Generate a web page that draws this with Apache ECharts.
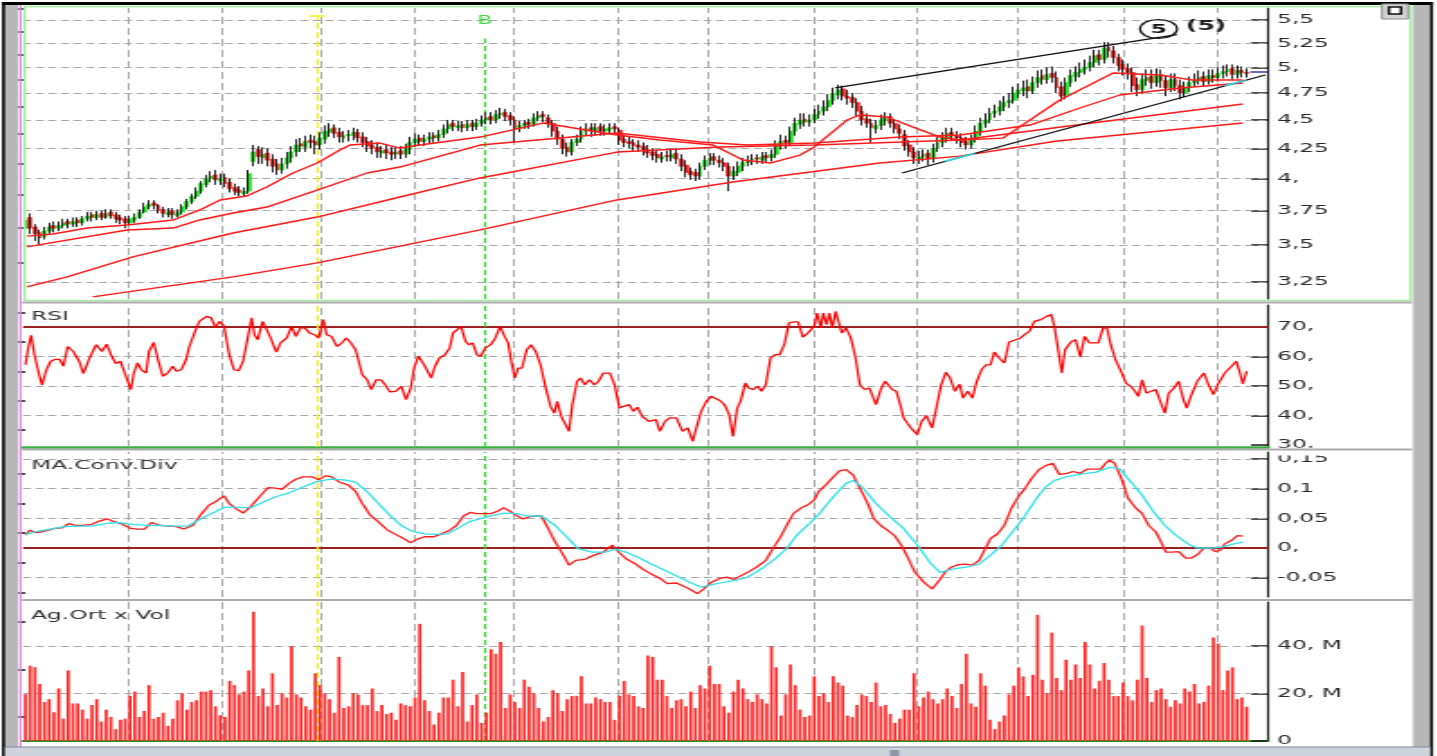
<!DOCTYPE html>
<html lang="tr">
<head>
<meta charset="utf-8">
<title>Fiyat grafiği</title>
<script src="https://cdn.jsdelivr.net/npm/echarts@6/dist/echarts.min.js"></script>
<style>
  html, body { margin: 0; height: 100%; background: #fff; overflow: hidden; }
  /* the source screenshot is stretched horizontally, so the chart is drawn narrow and widened */
  #container { width: 798px; height: 756px; transform: scaleX(1.8); transform-origin: 0 0; }
</style>
</head>
<body>
<div id="container"></div>
<script>
// ---- data (one entry per trading day) ----
var opens = [
  3.62,3.70,3.63,3.59,3.56,3.60,3.64,3.62,3.64,3.67, 3.65,3.68,3.66,3.69,3.72,3.70,3.73,3.70,3.74,3.72,
  3.70,3.69,3.66,3.68,3.70,3.74,3.78,3.81,3.79,3.76, 3.72,3.75,3.71,3.74,3.78,3.82,3.86,3.90,3.95,4.00,
  4.03,3.98,4.01,3.97,3.93,3.91,3.88,3.90,4.14,4.24, 4.17,4.21,4.16,4.12,4.07,4.12,4.17,4.22,4.29,4.26,
  4.32,4.31,4.28,4.33,4.39,4.43,4.39,4.34,4.36,4.36, 4.39,4.35,4.31,4.28,4.26,4.21,4.24,4.22,4.20,4.23,
  4.20,4.24,4.30,4.34,4.31,4.33,4.36,4.34,4.37,4.42, 4.47,4.43,4.46,4.43,4.47,4.44,4.47,4.50,4.53,4.50,
  4.55,4.57,4.54,4.50,4.42,4.45,4.48,4.46,4.52,4.55, 4.52,4.47,4.40,4.33,4.26,4.22,4.30,4.33,4.40,4.43,
  4.40,4.44,4.40,4.41,4.44,4.41,4.33,4.31,4.30,4.28, 4.27,4.24,4.22,4.20,4.16,4.19,4.17,4.21,4.16,4.11,
  4.06,4.05,4.02,4.10,4.15,4.18,4.15,4.13,4.10,4.02, 4.05,4.10,4.13,4.15,4.17,4.15,4.19,4.17,4.20,4.28,
  4.32,4.30,4.40,4.46,4.51,4.48,4.50,4.55,4.58,4.62, 4.68,4.73,4.79,4.72,4.71,4.66,4.58,4.51,4.47,4.42,
  4.45,4.49,4.53,4.47,4.42,4.37,4.28,4.22,4.16,4.18, 4.21,4.16,4.25,4.30,4.34,4.39,4.36,4.34,4.31,4.28,
  4.33,4.40,4.47,4.50,4.56,4.58,4.62,4.66,4.68,4.74, 4.77,4.81,4.77,4.85,4.92,4.88,4.94,4.90,4.81,4.73,
  4.85,4.91,4.95,4.98,5.00,5.05,5.13,5.08,5.21,5.17, 5.10,5.03,4.99,4.95,4.83,4.78,4.87,4.91,4.85,4.93,
  4.87,4.80,4.88,4.82,4.75,4.80,4.85,4.87,4.91,4.86, 4.92,4.90,4.94,4.96,4.99,4.93,4.97,4.95
];
var closes = [
  3.68,3.62,3.58,3.55,3.60,3.63,3.62,3.64,3.66,3.65, 3.67,3.66,3.69,3.71,3.70,3.72,3.70,3.73,3.71,3.69,
  3.68,3.66,3.69,3.70,3.74,3.78,3.80,3.79,3.75,3.73, 3.74,3.72,3.74,3.78,3.82,3.86,3.90,3.96,4.00,4.02,
  3.99,4.00,3.96,3.92,3.90,3.89,3.90,4.04,4.22,4.18, 4.20,4.15,4.10,4.07,4.12,4.17,4.22,4.28,4.27,4.31,
  4.30,4.28,4.34,4.40,4.42,4.38,4.35,4.36,4.37,4.39, 4.34,4.30,4.27,4.25,4.22,4.23,4.21,4.20,4.22,4.20,
  4.24,4.30,4.33,4.31,4.33,4.35,4.34,4.37,4.42,4.46, 4.44,4.45,4.43,4.46,4.44,4.47,4.50,4.52,4.50,4.55,
  4.56,4.53,4.50,4.42,4.45,4.47,4.46,4.52,4.54,4.53, 4.47,4.40,4.33,4.25,4.22,4.30,4.33,4.40,4.42,4.40,
  4.43,4.40,4.42,4.43,4.42,4.32,4.30,4.29,4.27,4.26, 4.23,4.21,4.19,4.17,4.18,4.18,4.20,4.16,4.10,4.05,
  4.03,4.02,4.10,4.15,4.17,4.15,4.13,4.10,4.02,4.06, 4.10,4.13,4.15,4.16,4.16,4.18,4.17,4.20,4.28,4.31,
  4.30,4.40,4.47,4.50,4.48,4.50,4.55,4.58,4.62,4.68, 4.74,4.78,4.72,4.70,4.66,4.58,4.50,4.47,4.43,4.45,
  4.50,4.52,4.47,4.42,4.38,4.27,4.22,4.17,4.18,4.20, 4.16,4.25,4.30,4.34,4.38,4.36,4.34,4.30,4.28,4.33,
  4.40,4.47,4.50,4.56,4.58,4.62,4.66,4.68,4.75,4.78, 4.80,4.77,4.85,4.90,4.88,4.93,4.90,4.80,4.72,4.85,
  4.92,4.95,4.98,5.00,5.05,5.12,5.08,5.20,5.17,5.10, 5.02,4.98,4.95,4.82,4.78,4.88,4.90,4.85,4.92,4.87,
  4.80,4.88,4.82,4.75,4.80,4.85,4.87,4.90,4.86,4.92, 4.90,4.94,4.96,4.98,4.93,4.97,4.95,4.94
];
var lows = [
  3.58,3.58,3.53,3.50,3.54,3.58,3.59,3.60,3.62,3.62, 3.63,3.63,3.64,3.67,3.67,3.68,3.68,3.69,3.69,3.66,
  3.65,3.62,3.64,3.66,3.69,3.73,3.76,3.76,3.73,3.70, 3.70,3.69,3.70,3.72,3.76,3.80,3.84,3.88,3.93,3.97,
  3.95,3.95,3.93,3.89,3.87,3.86,3.86,3.88,4.10,4.12, 4.12,4.10,4.05,4.03,4.04,4.08,4.13,4.18,4.22,4.22,
  4.25,4.20,4.24,4.29,4.35,4.34,4.30,4.30,4.31,4.32, 4.30,4.26,4.22,4.20,4.17,4.17,4.16,4.15,4.16,4.16,
  4.17,4.20,4.26,4.27,4.27,4.29,4.30,4.31,4.34,4.38, 4.40,4.40,4.39,4.40,4.40,4.41,4.44,4.46,4.46,4.47,
  4.51,4.49,4.45,4.30,4.39,4.42,4.42,4.44,4.49,4.48, 4.43,4.35,4.28,4.20,4.18,4.19,4.27,4.30,4.36,4.35,
  4.36,4.36,4.36,4.38,4.38,4.28,4.26,4.25,4.23,4.22, 4.19,4.17,4.15,4.13,4.13,4.14,4.14,4.12,4.06,4.01,
  3.99,3.98,3.99,4.07,4.11,4.11,4.09,4.06,3.90,3.99, 4.02,4.06,4.10,4.11,4.12,4.12,4.13,4.14,4.17,4.24,
  4.25,4.27,4.36,4.42,4.44,4.44,4.47,4.51,4.54,4.58, 4.64,4.69,4.68,4.64,4.61,4.53,4.45,4.43,4.30,4.38,
  4.41,4.45,4.43,4.38,4.33,4.23,4.18,4.12,4.12,4.14, 4.11,4.13,4.22,4.26,4.30,4.32,4.29,4.26,4.24,4.25,
  4.30,4.36,4.43,4.47,4.52,4.54,4.58,4.61,4.65,4.70, 4.72,4.70,4.74,4.80,4.83,4.84,4.85,4.75,4.67,4.69,
  4.81,4.86,4.90,4.93,4.96,5.00,5.02,5.04,5.10,5.04, 4.96,4.92,4.88,4.76,4.72,4.74,4.82,4.79,4.81,4.80,
  4.72,4.76,4.77,4.69,4.71,4.76,4.81,4.83,4.81,4.83, 4.85,4.86,4.89,4.91,4.88,4.89,4.90,4.90
];
var highs = [
  3.75,3.73,3.65,3.61,3.63,3.66,3.67,3.67,3.69,3.69, 3.70,3.70,3.71,3.74,3.74,3.75,3.75,3.76,3.76,3.74,
  3.72,3.71,3.71,3.73,3.76,3.81,3.83,3.83,3.80,3.78, 3.77,3.77,3.76,3.80,3.84,3.88,3.93,3.98,4.03,4.06,
  4.07,4.04,4.04,4.00,3.96,3.94,3.93,4.07,4.28,4.27, 4.26,4.25,4.20,4.16,4.17,4.22,4.27,4.33,4.34,4.36,
  4.37,4.36,4.39,4.45,4.47,4.46,4.43,4.40,4.41,4.43, 4.42,4.39,4.35,4.32,4.30,4.27,4.28,4.26,4.26,4.27,
  4.29,4.35,4.38,4.37,4.37,4.39,4.39,4.41,4.46,4.50, 4.50,4.49,4.49,4.50,4.50,4.51,4.54,4.57,4.57,4.59,
  4.61,4.60,4.57,4.53,4.49,4.50,4.51,4.56,4.58,4.58, 4.55,4.50,4.44,4.37,4.30,4.33,4.37,4.44,4.47,4.47,
  4.47,4.47,4.46,4.47,4.47,4.43,4.37,4.35,4.33,4.32, 4.30,4.28,4.25,4.23,4.22,4.23,4.24,4.25,4.20,4.15,
  4.09,4.08,4.13,4.19,4.21,4.21,4.19,4.17,4.13,4.10, 4.14,4.17,4.19,4.20,4.20,4.22,4.22,4.24,4.32,4.37,
  4.36,4.44,4.52,4.56,4.56,4.55,4.60,4.64,4.68,4.74, 4.80,4.83,4.82,4.78,4.75,4.70,4.63,4.56,4.51,4.50,
  4.55,4.57,4.56,4.51,4.46,4.41,4.32,4.26,4.23,4.24, 4.24,4.29,4.35,4.39,4.43,4.43,4.40,4.38,4.35,4.37,
  4.45,4.52,4.56,4.61,4.64,4.68,4.72,4.75,4.81,4.84, 4.87,4.88,4.91,4.97,4.98,5.00,5.01,4.96,4.86,4.90,
  4.98,5.01,5.05,5.08,5.12,5.18,5.18,5.26,5.26,5.22, 5.14,5.08,5.04,5.00,4.90,4.94,4.98,4.98,4.99,4.98,
  4.92,4.94,4.94,4.88,4.86,4.91,4.94,4.97,4.96,4.98, 4.98,5.00,5.02,5.03,5.03,5.02,5.01,4.99
];
// volume, millions
var volumes = [
  19.7,31.7,31.1,24.0,16.4,17.6,12.1,22.1,9.4,29.7, 15.8,15.8,13.2,9.4,15.1,17.6,8.2,13.2,10.1,5.0,
  8.9,9.4,19.0,20.8,10.1,12.6,23.5,9.4,10.1,11.9, 6.4,9.4,17.1,20.1,13.2,16.4,17.1,20.8,20.8,21.4,
  14.6,10.8,10.1,25.3,23.5,19.6,20.8,29.7,54.4,18.9, 22.1,14.6,28.5,15.1,20.1,18.3,39.9,19.6,18.3,14.6,
  13.2,28.5,23.5,20.1,17.6,11.9,35.4,13.9,14.6,20.1, 19.6,15.1,15.1,22.1,12.6,15.1,11.4,11.9,8.9,15.8,
  15.1,14.6,18.3,49.3,17.1,12.6,6.9,11.9,18.3,18.3, 25.8,14.6,29.0,8.2,15.1,19.6,7.6,11.9,38.6,36.7,
  41.7,13.9,19.6,16.4,13.9,25.8,22.8,20.1,13.9,8.2, 10.1,21.4,20.1,12.6,17.6,18.9,19.0,27.2,15.8,15.8,
  18.3,17.6,16.4,16.4,8.9,19.0,25.3,19.6,18.9,14.6, 13.9,36.0,35.4,25.8,25.8,18.9,13.9,17.1,17.6,14.6,
  20.8,13.9,23.5,22.1,31.7,24.0,24.0,
  14.6,11.9,20.8,25.8,22.1,17.6,16.4,19.6,17.6,15.8, 39.9,31.0,10.7,19.6,32.2,23.5,13.2,10.1,10.7,27.2,
  18.9,20.1,16.4,27.2,24.6,23.3,10.7,10.1,15.1,19.6, 18.9,16.4,24.6,14.6,15.1,11.4,7.6,9.4,13.2,13.2,
  28.5,14.6,18.3,20.8,17.6,15.8,17.6,22.1,18.9,13.9, 24.0,36.7,15.8,14.4,28.5,23.3,8.9,5.0,8.2,10.7,
  19.6,23.3,31.0,27.2,18.9,27.8,53.1,25.8,20.1,45.6, 26.5,21.4,34.2,25.8,32.2,26.5,41.7,32.2,22.1,25.3,
  32.8,25.8,18.9,18.9,24.6,18.9,17.1,25.8,48.6,26.5, 16.4,21.4,22.1,17.6,14.4,17.1,15.8,22.1,20.8,24.0,
  15.8,16.4,23.3,43.6,41.0,21.4,29.7,31.0,17.6,18.3, 14.4
];

// moving averages, read at sample days
var ma20Days = [0.3,5.8,13.0,21.4,31.1,36.7,41.0,46.6,50.8,56.3,61.4,66.2,68.3,74.6,78.8,83.0,95.7,108.9,124.5,133.5,
  144.7,151.0,156.7,163.0,165.7,172.9,175.6,181.3,186.8,192.5,196.7,205.7,217.7,228.9,238.8,245.7,256.2];
var ma20Vals = [3.564,3.579,3.622,3.644,3.681,3.756,3.832,3.863,3.933,4.045,4.127,4.236,4.279,4.296,4.253,4.279,4.348,4.472,4.366,4.322,
  4.279,4.152,4.127,4.194,4.253,4.499,4.545,4.527,4.436,4.348,4.322,4.339,4.684,4.944,4.925,4.875,4.875];
var ma50Days = [0.3,21.4,31.1,36.7,43.7,50.8,61.4,71.9,78.8,95.7,124.5,142.0,151.9,166.1,184.1,196.7,211.4,221.9,230.3,243.0,256.2];
var ma50Vals = [3.487,3.608,3.622,3.681,3.733,3.778,3.909,4.045,4.094,4.279,4.383,4.305,4.279,4.296,4.348,4.366,4.454,4.609,4.731,4.798,4.846];
var ma100Days = [0.3,8.8,22.6,43.7,61.4,78.8,95.7,124.5,146.2,166.1,196.7,226.1,256.2];
var ma100Vals = [3.218,3.284,3.418,3.586,3.703,3.855,4.005,4.219,4.262,4.279,4.322,4.481,4.646];
var ma200Days = [14.2,43.7,61.4,95.7,124.5,148.9,179.8,196.7,217.1,256.2];
var ma200Vals = [3.154,3.284,3.377,3.608,3.832,3.973,4.127,4.185,4.314,4.472];

// RSI
var rsiDays = [
  0,0.6,1.2,1.9,2.9,3.5,4.3,5.3,6.2,7.2, 8.0,8.9,10.1,11.3,12.2,13.5,14.9,16.1,17.1,18.0,
  19.0,20.0,20.9,22.2,22.8,23.6,24.4,25.4,26.0,27.0, 28.0,28.9,29.9,31.0,31.8,32.8,33.8,34.4,35.7,36.6,
  38.1,39.1,40.0,40.8,41.8,42.9,43.9,44.9,45.8,46.8, 47.6,48.2,48.9,49.9,50.6,51.6,52.8,53.7,55.0,56.0,
  56.9,57.9,58.8,59.8,60.8,61.7,62.7,63.4,64.4,65.6, 66.6,67.5,68.5,69.5,70.9,71.9,72.8,73.8,74.8,75.7,
  76.7,77.9,79.1,80.1,81.1,81.8,82.7,83.9,85.4,86.2, 87.1,88.3,89.3,90.0,91.7,92.6,93.3,94.1,95.0,95.8,
  96.8,97.9,98.9,99.9,100.8,101.6,102.3,103.0,103.7,104.5, 105.5,106.4,107.4,108.4,109.5,110.5,111.3,111.9,112.9,114.4,
  115.1,116.1,116.8,117.7,118.7,119.7,120.6,121.6,123.0,124.0, 125.0,125.9,127.1,127.9,128.8,129.8,131.2,132.7,133.5,134.6,
  135.6,137.0,138.3,139.4,140.4,141.2,142.2,143.3,144.3,
  146.2,147.1,148.1,148.9,149.8,150.5,151.5,152.2,153.1,154.1, 154.9,155.8,156.8,157.8,158.7,159.7,160.7,161.6,162.6,163.6,
  164.7,166.0,166.6,167.4,167.9,168.6,169.2,169.8,170.5,171.3, 171.8,172.7,173.7,174.7,175.6,176.6,177.6,179.0,180.0,180.9,
  182.4,183.3,184.3,184.8,185.8,186.7,187.7,188.6,189.6,190.8, 191.7,192.7,193.7,194.6,195.6,196.6,197.3,198.3,199.3,200.2,
  201.2,202.2,203.1,203.9,204.9,206.0,207.0,208.4,209.4,210.4, 211.3,212.3,213.7,214.9,215.9,216.6,217.4,218.1,218.8,220.0,
  221.0,222.0,222.9,223.9,224.8,225.8,226.8,227.6,228.4,229.4, 230.6,231.6,232.6,233.5,234.2,235.0,235.9,236.9,237.9,238.8,
  239.8,240.6,241.7,242.7,243.7,244.4,245.4,246.6,248.0,249.0, 250.0,250.9,252.4,253.8,254.8,255.4,256.2,257.0
];
var rsiVals = [
  57.2,62.9,67.2,60.6,53.8,50.4,55.0,58.4,59.0,59.0, 56.7,63.4,61.7,58.4,54.2,59.5,64.0,61.7,64.2,60.6,
  57.6,58.4,54.4,48.8,54.4,57.8,55.5,54.4,61.7,64.8, 58.4,53.3,54.4,56.7,55.0,55.5,58.9,62.9,68.5,71.9,
  73.6,73.1,69.7,71.9,70.2,60.6,55.5,55.2,58.4,66.3, 73.1,67.4,65.7,71.9,69.7,66.3,61.5,64.6,66.3,70.2,
  66.8,69.7,69.7,68.0,67.4,66.3,72.5,67.4,66.8,63.4, 64.6,66.3,64.6,62.3,53.8,52.1,48.8,52.1,52.1,50.4,
  48.0,48.2,49.9,45.4,49.3,56.1,60.1,57.2,52.7,56.7, 59.5,60.6,62.9,68.0,70.2,65.2,64.0,64.6,60.6,60.1,
  62.9,64.0,66.3,70.2,67.0,64.6,57.8,52.7,56.1,56.1, 62.3,64.0,61.7,57.2,49.3,43.1,40.8,44.8,39.2,34.6,
  43.7,51.6,52.7,50.4,52.1,50.4,51.6,54.4,54.4,50.4, 42.5,43.1,43.7,41.4,42.8,39.7,38.0,38.6,34.6,38.0,
  39.2,39.2,34.6,35.8,31.2,35.8,41.4,44.8,46.5,
  45.0,43.7,40.3,32.9,42.5,44.8,51.0,49.3,48.8,49.9, 48.2,50.4,59.5,60.6,60.6,64.0,71.4,71.7,71.7,66.6,
  68.0,70.2,74.7,69.7,74.7,70.8,74.7,69.7,75.3,70.8, 68.0,69.7,66.3,59.5,50.4,48.8,49.3,43.7,48.8,51.6,
  48.8,48.2,42.5,39.2,36.9,35.2,33.5,38.0,40.0,35.8, 42.5,50.4,54.7,52.7,48.2,50.6,45.9,48.2,45.9,51.6,
  55.5,57.2,57.2,61.5,59.5,57.8,64.9,65.7,66.3,67.6, 68.5,71.9,72.5,73.6,74.2,69.7,61.7,54.4,62.3,64.9,
  65.7,59.8,66.8,64.6,64.6,64.6,69.7,69.7,64.0,58.9, 54.9,51.0,49.9,48.2,46.5,52.1,47.6,48.2,48.8,44.8,
  40.8,47.6,49.3,51.6,45.4,42.5,47.1,51.6,54.4,50.4, 47.1,50.4,54.4,56.7,58.4,55.5,50.7,55.0
];

// MACD and its signal line
var macdDays = [
  0,0.9,2.2,3.3,4.8,6.2,7.7,9.1,10.6,12.0, 14.0,15.4,17.3,18.8,20.2,22.2,23.6,25.1,26.5,28.4,
  30.4,31.8,33.3,35.2,37.1,38.6,40.0,41.8,42.9,44.4, 45.8,47.3,49.2,51.1,52.6,54.0,55.5,56.9,58.4,60.3,
  61.7,63.2,64.4,66.1,68.0,69.5,70.9,72.6,74.3,76.2, 77.9,79.6,81.0,82.5,84.0,85.9,87.3,89.3,90.7,92.2,
  93.6,95.0,96.5,97.9,99.4,100.6,102.0,103.3,104.7,106.1, 107.6,108.6,110.0,111.5,113.2,114.4,115.8,117.7,119.7,121.6,
  123.5,125.0,126.4,128.4,129.8,131.7,133.7,135.1,137.0,139.0, 140.4,141.4,142.8,144.3,
  146.2,147.6,149.1,150.5,152.0,153.9,155.8,157.3,158.7,160.2, 161.6,163.1,164.5,166.0,166.9,168.4,169.8,171.3,172.7,174.2,
  175.6,177.1,178.5,180.0,181.4,182.9,184.3,185.8,187.2,189.1, 190.8,192.3,193.5,194.9,196.4,197.8,199.3,200.7,202.0,203.1,
  204.6,206.0,207.5,208.9,210.4,211.8,213.3,214.7,216.2,217.6, 219.1,220.5,222.0,223.4,224.8,226.3,227.3,228.2,229.2,230.6,
  232.1,233.5,235.0,236.4,237.9,239.0,240.0,241.3,242.7,244.2, 245.4,246.8,248.0,249.3,250.4,251.4,252.4,253.8,255.1,256.2
];
var macdVals = [
  0.0215,0.030,0.026,0.027,0.030,0.033,0.034,0.041,0.038,0.038, 0.040,0.045,0.049,0.044,0.041,0.033,0.032,0.032,0.043,0.038,
  0.037,0.036,0.032,0.038,0.058,0.072,0.078,0.088,0.075,0.066, 0.059,0.069,0.086,0.102,0.101,0.099,0.109,0.116,0.120,0.120,
  0.115,0.122,0.120,0.111,0.106,0.095,0.075,0.055,0.044,0.030, 0.023,0.016,0.009,0.015,0.019,0.019,0.023,0.030,0.038,0.054,
  0.060,0.058,0.058,0.058,0.062,0.068,0.062,0.055,0.049,0.053, 0.054,0.054,0.033,0.010,-0.012,-0.029,-0.021,-0.019,-0.012,-0.007,
  0.005,-0.008,-0.018,-0.027,-0.035,-0.044,-0.052,-0.060,-0.059,-0.066, -0.072,-0.077,-0.069,-0.058,
  -0.051,-0.049,-0.053,-0.047,-0.041,-0.032,-0.021,-0.001,0.016,0.038, 0.058,0.067,0.072,0.081,0.095,0.106,0.118,0.130,0.132,0.123,
  0.101,0.078,0.050,0.038,0.030,0.021,0.005,-0.018,-0.041,-0.058, -0.069,-0.055,-0.041,-0.032,-0.028,-0.027,-0.029,-0.021,-0.001,0.016,
  0.024,0.038,0.067,0.086,0.101,0.118,0.132,0.139,0.143,0.124, 0.126,0.129,0.126,0.133,0.133,0.133,0.143,0.148,0.143,0.118,
  0.083,0.069,0.058,0.038,0.027,0.010,-0.007,-0.007,-0.006,-0.017, -0.017,-0.010,0.000,0.000,-0.006,-0.004,0.007,0.013,0.021,0.020
];
var signalDays = [
  0,2.4,5.3,8.2,11.1,14.0,16.9,19.8,22.6,25.6, 28.4,31.3,34.2,37.1,40.0,42.0,43.9,45.8,47.8,50.2,
  52.6,55.5,58.4,61.3,64.2,67.1,69.5,71.9,74.3,76.7, 79.1,81.5,84.0,86.4,88.8,91.2,93.6,96.0,98.4,100.8,
  103.3,105.7,108.6,111.5,113.9,116.3,119.2,122.1,124.0,126.4, 128.8,131.7,134.6,137.5,139.9,142.3,144.3,
  146.2,149.1,152.0,154.9,157.8,160.2,162.6,165.0,167.4,170.3, 172.7,174.2,176.1,179.0,181.9,184.8,187.7,190.6,192.5,195.4,
  198.3,200.7,203.1,205.5,208.0,210.4,212.8,214.7,216.6,219.5, 222.4,225.3,228.2,230.2,232.6,235.0,237.4,239.8,242.2,245.1,
  246.6,249.5,251.9,254.3,256.2
];
var signalVals = [
  0.0226,0.028,0.032,0.036,0.037,0.037,0.041,0.043,0.040,0.038, 0.038,0.037,0.037,0.050,0.061,0.069,0.069,0.068,0.069,0.078,
  0.086,0.093,0.103,0.112,0.116,0.115,0.111,0.095,0.075,0.055, 0.038,0.028,0.024,0.023,0.024,0.034,0.045,0.050,0.055,0.059,
  0.058,0.054,0.054,0.038,0.019,-0.001,-0.007,-0.007,-0.002,-0.007, -0.015,-0.027,-0.038,-0.049,-0.058,-0.066,-0.062,
  -0.059,-0.055,-0.049,-0.035,-0.018,-0.001,0.024,0.041,0.061,0.089, 0.109,0.114,0.103,0.075,0.053,0.033,0.005,-0.027,-0.041,-0.035,
  -0.032,-0.027,-0.012,0.005,0.030,0.055,0.084,0.103,0.114,0.121, 0.125,0.128,0.136,0.134,0.112,0.089,0.061,0.038,0.021,0.005,
  0.000,0.000,0.002,0.007,0.010
];

// month boundaries and marked days (day positions)
var monthBounds = [21.5, 41.5, 62, 82, 102.8, 124.5, 143.5, 166, 187.5, 208.7, 231, 251];
var yellowDay = 61.4;
var greenDay = 96.7;

// drawn trend lines [day, price]
var upperTrend = [[170.4, 4.798], [242.3, 5.34]];
var lowerTrend = [[184.5, 4.045], [260.9, 4.925]];
var cyanMarks = [[[193.5, 4.141], [199.8, 4.208]], [[252.4, 4.819], [256.7, 4.872]]];
var navyMark = [[257.7, 4.954], [261.3, 4.954]];

// axis ticks
var priceTicks = [3.25, 3.5, 3.75, 4, 4.25, 4.5, 4.75, 5, 5.25, 5.5];
var priceMinor = [3.375, 3.625, 3.875, 4.125, 4.375, 4.625, 4.875, 5.125, 5.375, 5.625];
var rsiTicks = [30, 40, 50, 60, 70];
var rsiMinor = [35, 45, 55, 65, 75];
var macdTicks = [-0.05, 0, 0.05, 0.1, 0.15];
var macdMinor = [-0.075, -0.025, 0.025, 0.075, 0.125];
var volTicks = [0, 20, 40];
var volMinor = [10, 30, 50];

// ---- layout ----
var SX = 1.8, W = 798;
function px(x) { return x / SX; }
var NCAT = 262;
var cats = [];
for (var i = 0; i < NCAT; i++) cats.push(String(i));
var FONT = 'DejaVu Sans';
var gridLeft = px(23), gridRight = W - px(1268);

var panels = [
  { top: 8,   bottom: 299, min: 3.141,   max: 5.634,  log: true, major: priceTicks, minor: priceMinor },
  { top: 305, bottom: 447, min: 29.32,   max: 77.46,  major: rsiTicks,  minor: rsiMinor },
  { top: 452, bottom: 597, min: -0.0826, max: 0.1619, major: macdTicks, minor: macdMinor },
  { top: 602, bottom: 741, min: 0,       max: 58.5,   major: volTicks,  minor: volMinor }
];

function comma(v) {
  var s = String(+(+v).toFixed(4)).replace('.', ',');
  return s.indexOf(',') < 0 ? s + ',' : s;
}
function volFmt(v) { return +v === 0 ? '0' : v + ', M'; }

var gridV = { color: '#a9a9a9', width: 1, type: [7, 4] };
var gridH = { color: '#a9a9a9', width: 1.2, type: [4.5, 2.5] };
var levelLine = { color: '#9b2222', width: 2, type: 'solid' };
var yellowV = { color: '#f2ee1a', width: 1.2, type: [6, 3] };
var greenV = { color: '#28d828', width: 1.2, type: [5, 3] };

var grids = [], xAxes = [], yAxes = [], series = [];
panels.forEach(function (p, k) {
  grids.push({ left: gridLeft, right: gridRight, top: p.top, bottom: 756 - p.bottom, outerBoundsMode: 'none', containLabel: false });
  var baseLine = k === 1 ? { show: true, onZero: false, lineStyle: { color: '#3cb043', width: 2.5 } }
               : k === 3 ? { show: true, onZero: false, lineStyle: { color: '#1f9a1f', width: 2 } }
               : { show: false };
  xAxes.push({ type: 'category', gridIndex: k, data: cats, boundaryGap: true,
    axisLine: baseLine, axisTick: { show: false }, axisLabel: { show: false }, splitLine: { show: false } });
  xAxes.push({ type: 'value', gridIndex: k, min: -0.5, max: NCAT - 0.5, show: false, splitLine: { show: false } });
  var type = p.log ? 'log' : 'value';
  yAxes.push({
    type: type, gridIndex: k, position: 'right', min: p.min, max: p.max, logBase: 10,
    axisLine: { show: true, onZero: false, lineStyle: { color: '#1a1a1a', width: 1.2 } },
    axisTick: { show: true, inside: true, length: px(17), customValues: p.major, lineStyle: { color: '#1a1a1a', width: 1.5 } },
    axisLabel: { show: true, customValues: p.major, formatter: k === 3 ? volFmt : comma, margin: px(9),
      color: '#2a2a2a', fontFamily: FONT, fontSize: 13 },
    splitLine: { show: false }
  });
  yAxes.push({
    type: type, gridIndex: k, position: 'right', min: p.min, max: p.max, logBase: 10,
    axisLine: { show: false },
    axisTick: { show: true, inside: true, length: px(7), customValues: p.minor, lineStyle: { color: '#1a1a1a', width: 1.5 } },
    axisLabel: { show: false }, splitLine: { show: false }
  });
});

function pairs(days, vals) { return days.map(function (d, i) { return [d, vals[i]]; }); }
function vSeg(d, y0, y1, style, extra) {
  var end = { coord: [d, y1] };
  if (extra) end.label = extra;
  return [{ coord: [d, y0], lineStyle: style }, end];
}

// grid lines and event markers for each panel
var levelSets = [
  { dashed: priceTicks, solid: [] },
  { dashed: [40, 50, 60], solid: [70] },
  { dashed: [-0.05, 0.05, 0.1, 0.15], solid: [0] },
  { dashed: [20, 40], solid: [] }
];
panels.forEach(function (p, k) {
  var items = [];
  monthBounds.forEach(function (d) { items.push(vSeg(d, p.min, p.max, gridV)); });
  levelSets[k].dashed.forEach(function (v) { items.push({ yAxis: v, lineStyle: gridH }); });
  levelSets[k].solid.forEach(function (v) { items.push({ yAxis: v, lineStyle: levelLine }); });
  if (k === 0) {
    items.push(vSeg(yellowDay, p.min, 5.55, yellowV));
    items.push([{ coord: [yellowDay - 1.6, 5.55], lineStyle: { color: '#f2ee1a', width: 1.5, type: 'solid' } }, { coord: [yellowDay + 1.6, 5.55] }]);
    items.push(vSeg(greenDay, p.min, 5.30, greenV,
      { show: true, formatter: 'B', position: 'end', distance: 12, color: '#3ddc3d', fontSize: 12, fontFamily: FONT }));
  } else {
    items.push(vSeg(yellowDay, p.min, p.max, yellowV));
    items.push(vSeg(greenDay, p.min, p.max, greenV));
  }
  series.push({
    type: 'line', name: 'guides' + k, xAxisIndex: 2 * k + 1, yAxisIndex: 2 * k, data: [], silent: true, z: 1,
    markLine: { z: 1, silent: true, animation: false, symbol: ['none', 'none'], label: { show: false }, emphasis: { disabled: true }, data: items }
  });
});

// price panel: coloured bodies, then a thin black high-low stroke through each
series.push({
  type: 'candlestick', name: 'Gövde', xAxisIndex: 0, yAxisIndex: 0, z: 3, barWidth: 2.4, silent: true,
  data: closes.map(function (c, i) { return [opens[i], c, Math.min(opens[i], c), Math.max(opens[i], c)]; }),
  itemStyle: { color: '#1fe01f', color0: '#ff1e1e', borderColor: '#1fe01f', borderColor0: '#ff1e1e', borderWidth: 0.6 }
});
series.push({
  type: 'candlestick', name: 'Fiyat', xAxisIndex: 0, yAxisIndex: 0, z: 4, barWidth: 1.0, silent: true,
  data: closes.map(function (c, i) { return [opens[i], c, lows[i], highs[i]]; }),
  itemStyle: { color: '#111', color0: '#111', borderColor: '#111', borderColor0: '#111', borderWidth: 0.9 }
});
[[ma20Days, ma20Vals], [ma50Days, ma50Vals], [ma100Days, ma100Vals], [ma200Days, ma200Vals]].forEach(function (m, j) {
  series.push({ type: 'line', name: 'MA' + j, xAxisIndex: 1, yAxisIndex: 0, z: 5, symbol: 'none', silent: true,
    data: pairs(m[0], m[1]), lineStyle: { color: '#ff1a1a', width: 1.4 } });
});
var trendItems = [
  [{ coord: upperTrend[0], lineStyle: { color: '#111', width: 1.3, type: 'solid' } }, { coord: upperTrend[1] }],
  [{ coord: lowerTrend[0], lineStyle: { color: '#111', width: 1.3, type: 'solid' } }, { coord: lowerTrend[1] }],
  [{ coord: navyMark[0], lineStyle: { color: '#3a3aa0', width: 1.5, type: 'solid' } }, { coord: navyMark[1] }]
];
cyanMarks.forEach(function (s) {
  trendItems.push([{ coord: s[0], lineStyle: { color: '#2fd8e8', width: 1.6, type: 'solid' } }, { coord: s[1] }]);
});
series.push({ type: 'line', name: 'trend', xAxisIndex: 1, yAxisIndex: 0, data: [], silent: true,
  markLine: { z: 6, silent: true, animation: false, symbol: ['none', 'none'], label: { show: false }, data: trendItems } });

// RSI
series.push({ type: 'line', name: 'RSI', xAxisIndex: 3, yAxisIndex: 2, z: 4, symbol: 'none', silent: true,
  data: pairs(rsiDays, rsiVals), lineStyle: { color: '#ff0000', width: 1.25 } });
// MACD
series.push({ type: 'line', name: 'MACD', xAxisIndex: 5, yAxisIndex: 4, z: 4, symbol: 'none', silent: true,
  data: pairs(macdDays, macdVals), lineStyle: { color: '#ff1a1a', width: 1.3 } });
series.push({ type: 'line', name: 'Sinyal', xAxisIndex: 5, yAxisIndex: 4, z: 4, symbol: 'none', silent: true,
  data: pairs(signalDays, signalVals), lineStyle: { color: '#33e0ea', width: 1.3 } });
// volume
series.push({ type: 'bar', name: 'Hacim', xAxisIndex: 6, yAxisIndex: 6, z: 3, barWidth: 1.7, silent: true,
  data: volumes, itemStyle: { color: '#ff2626' } });

// ---- window chrome and labels ----
function rect(x, y, w, h, style) { return { type: 'rect', z: 100, silent: true, shape: { x: px(x), y: y, width: px(w), height: h }, style: style }; }
function text(x, y, t, font, fill, align) {
  return { type: 'text', z: 101, silent: true, x: px(x), y: y,
    style: { text: t, font: font, fill: fill, textAlign: align || 'left', textVerticalAlign: 'middle' } };
}
var graphics = [
  rect(5, 5, 13, 751, { fill: '#b8b8b8' }),
  rect(1413, 5, 17, 751, { fill: '#b8b8b8' }),
  rect(1412, 5, 1.5, 751, { fill: '#e2e2e2' }),
  rect(2, 2, 3, 754, { fill: '#000' }),
  rect(1430, 2, 3, 754, { fill: '#000' }),
  rect(2, 2, 1431, 3, { fill: '#000' }),
  rect(19.5, 5, 2, 742, { fill: '#e47ce4' }),
  rect(5, 747, 1425, 9, { fill: '#cfd3dc' }),
  rect(5, 746.5, 1425, 1, { fill: '#7f8a9c' }),
  rect(890, 750, 9, 6, { fill: '#8d96a6' }),
  rect(24.5, 6.5, 1386, 294, { fill: null, stroke: '#a3eea3', lineWidth: 1.5 }),
  rect(1270, 447.8, 140, 7.7, { fill: '#fff' }),
  rect(22, 301.5, 1390, 2, { fill: '#ababab' }),
  rect(22, 448.5, 1390, 2, { fill: '#ababab' }),
  rect(22, 599, 1390, 2, { fill: '#ababab' }),
  rect(1382, 4, 26, 15, { fill: '#d4d4d4', stroke: '#8c8c8c', lineWidth: 1 }),
  rect(1389, 7, 12, 7, { fill: '#fff', stroke: '#111', lineWidth: 1.5 }),
  text(31, 317, 'RSI', '13px "DejaVu Sans"', '#333'),
  text(31, 466, 'MA.Conv.Div', '13px "DejaVu Sans"', '#333'),
  text(31, 616, 'Ag.Ort x Vol', '13px "DejaVu Sans"', '#333'),
  { type: 'ellipse', z: 101, silent: true, shape: { cx: px(1158.5), cy: 29, rx: px(18.5), ry: 9.5 },
    style: { fill: null, stroke: '#111', lineWidth: 1.2 } },
  text(1159, 30, '5', 'bold 13px "DejaVu Sans"', '#111', 'center'),
  text(1206, 26, '(5)', 'bold 14px "DejaVu Sans"', '#222', 'center')
];

var myChart = echarts.init(document.getElementById('container'), null, { renderer: 'canvas' });
myChart.setOption({
  animation: false,
  backgroundColor: '#fff',
  grid: grids,
  xAxis: xAxes,
  yAxis: yAxes,
  series: series,
  graphic: { elements: graphics }
});
</script>
</body>
</html>
